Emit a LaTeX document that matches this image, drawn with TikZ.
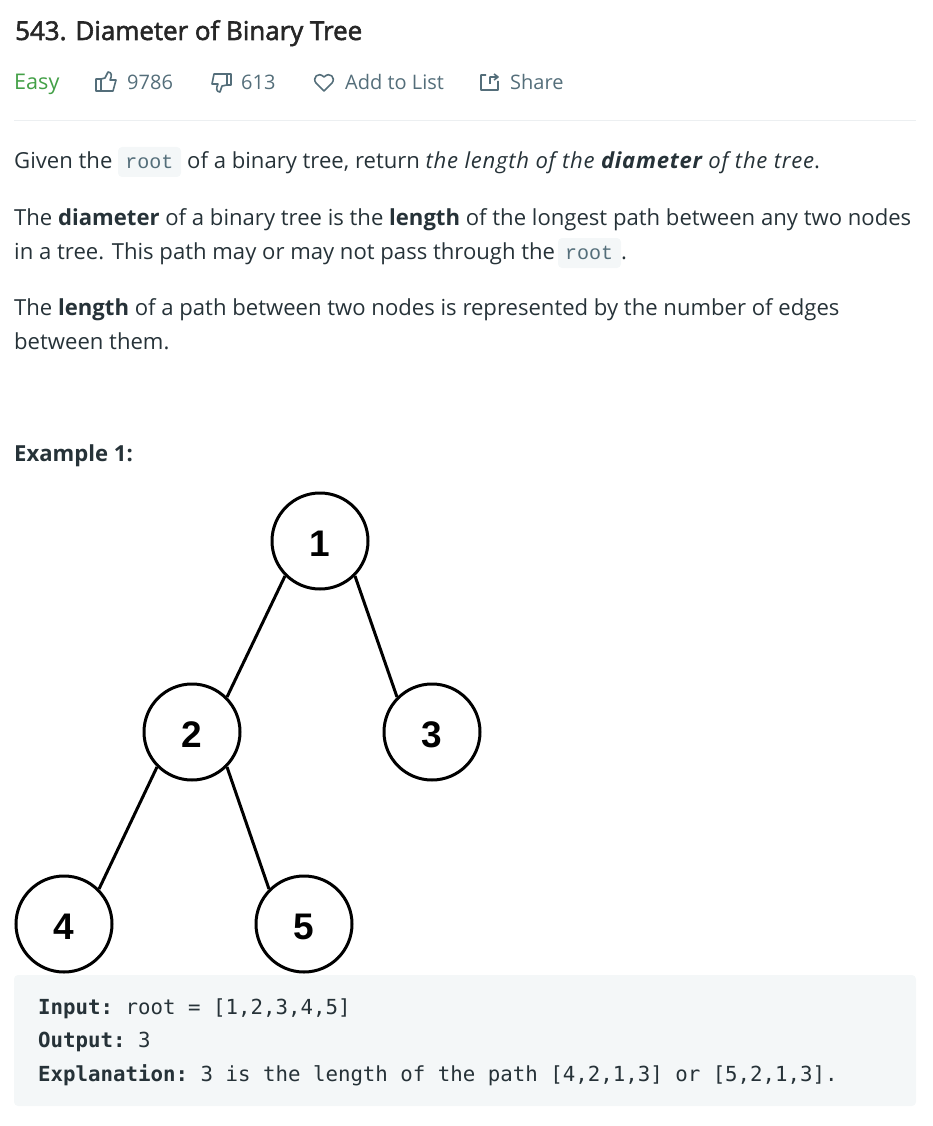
\documentclass[tikz,border=0pt]{standalone}
\usepackage{fontspec}
\setmainfont{Open Sans}
\setmonofont{DejaVu Sans Mono}
\newfontfamily\inlinecode{Liberation Mono}
\newfontfamily\titlefont[FakeBold=2.2]{Open Sans}
\newfontfamily\digitfont{Liberation Sans}
\definecolor{inktext}{HTML}{263238}
\definecolor{greytext}{HTML}{546E7A}
\definecolor{easygreen}{HTML}{43A047}
\definecolor{codebg}{HTML}{F4F7F8}
\definecolor{rulegrey}{HTML}{ECEFF1}
\tikzset{
  txt/.style={anchor=base west,inner sep=0pt,text=inktext,font=\fontsize{22.1}{26}\selectfont},
  meta/.style={txt,text=greytext,font=\fontsize{20}{24}\selectfont},
  icon/.style={draw=greytext,line width=1.6pt,line join=round},
  inl/.style={anchor=base,inner sep=0pt,text=greytext,font=\fontsize{20}{24}\inlinecode\selectfont},
  mono/.style={txt,text=inktext,font=\fontsize{20.75}{25}\ttfamily\selectfont},
  tree/.style={circle,draw=black,line width=3pt,fill=white,minimum size=96pt,inner sep=0pt,
    text height=30pt,text depth=0pt,font=\fontsize{37}{40}\digitfont\bfseries\selectfont},
  edge/.style={draw=black,line width=3pt},
}
\begin{document}
\begin{tikzpicture}[x=1pt,y=-1pt]
\useasboundingbox (0,0) rectangle (932,1126);
% header
\node[txt,font=\fontsize{25.9}{30}\titlefont\selectfont,text=black!85] (title) at (15,40) {543. Diameter of Binary Tree};
\node[meta,text=easygreen,font=\fontsize{21.6}{24}\selectfont] (easy) at (14,90) {Easy};
\draw[icon] (96,79) rectangle (101,91) (101,79) -- (105,78) -- (108,72) .. controls (112,72) and (112,76) .. (110,80) -- (116,80) -- (113,91) -- (101,91);
\node[meta] (likes) at (127,90) {9786};
\draw[icon] (227,74) rectangle (231,85) (227,85) -- (222,86) -- (220,92) .. controls (216,92) and (216,88) .. (218,84) -- (212,84) -- (214,74) -- (227,74);
\node[meta] (dislikes) at (241,90) {613};
\draw[icon] (324,91) -- (316,83) .. controls (312,78) and (318,71) .. (324,77) .. controls (330,71) and (336,78) .. (332,83) -- cycle;
\node[meta] (addlist) at (345,90) {Add to List};
\draw[icon] (486,75) -- (481,75) -- (481,90) -- (498,90) -- (498,81) (490,84) -- (490,77) -- (497,77) (494,74) -- (498,77) -- (494,80);
\node[meta] (share) at (510,90) {Share};
\draw[rulegrey,line width=1pt] (14,121) -- (916,121);
% description
\node[txt] (givena) at (14,169) {Given the};
\fill[codebg,rounded corners=4pt] (118,147) rectangle (181,177);
\node[inl] (roota) at (149.5,168) {root};
\node[txt] (givenb) at (187,169) {of a binary tree, return \addfontfeature{LetterSpace=3.3}\textit{the length of the \textbf{diameter} of the tree}.};
\node[txt] (diama) at (14,225) {The \textbf{diameter} of a binary tree is the \textbf{length} of the longest path between any two nodes};
\node[txt] (diamb) at (14,259) {in a tree. This path may or may not pass through the};
\fill[codebg,rounded corners=4pt] (558,238) rectangle (621,268);
\node[inl] (rootb) at (589,259) {root};
\node[txt] (diamc) at (621,259) {.};
\node[txt] (lena) at (14,315) {The \textbf{length} of a path between two nodes is represented by the number of edges};
\node[txt] (lenb) at (14,349) {between them.};
\node[txt] (example) at (14,461) {\textbf{Example 1:}};
% tree
\node[tree,text height=31pt] (n1) at (320,541) {1};
\node[tree] (n2) at (192,732) {2};
\node[tree] (n3) at (432,732) {3};
\node[tree] (n4) at (64,924) {4};
\node[tree] (n5) at (304,924) {5};
\draw[edge] (n1.225) -- (n2.45);
\draw[edge] (n1.-45) -- (n3.135);
\draw[edge] (n2.225) -- (n4.45);
\draw[edge] (n2.-45) -- (n5.135);
% example block
\fill[codebg,rounded corners=4pt] (14,975) rectangle (916,1106);
\node[mono] (input) at (38,1014) {\textbf{Input:} root = [1,2,3,4,5]};
\node[mono] (output) at (38,1047) {\textbf{Output:} 3};
\node[mono] (explain) at (38,1081) {\textbf{Explanation:} 3 is the length of the path [4,2,1,3] or [5,2,1,3].};
\end{tikzpicture}
\end{document}
